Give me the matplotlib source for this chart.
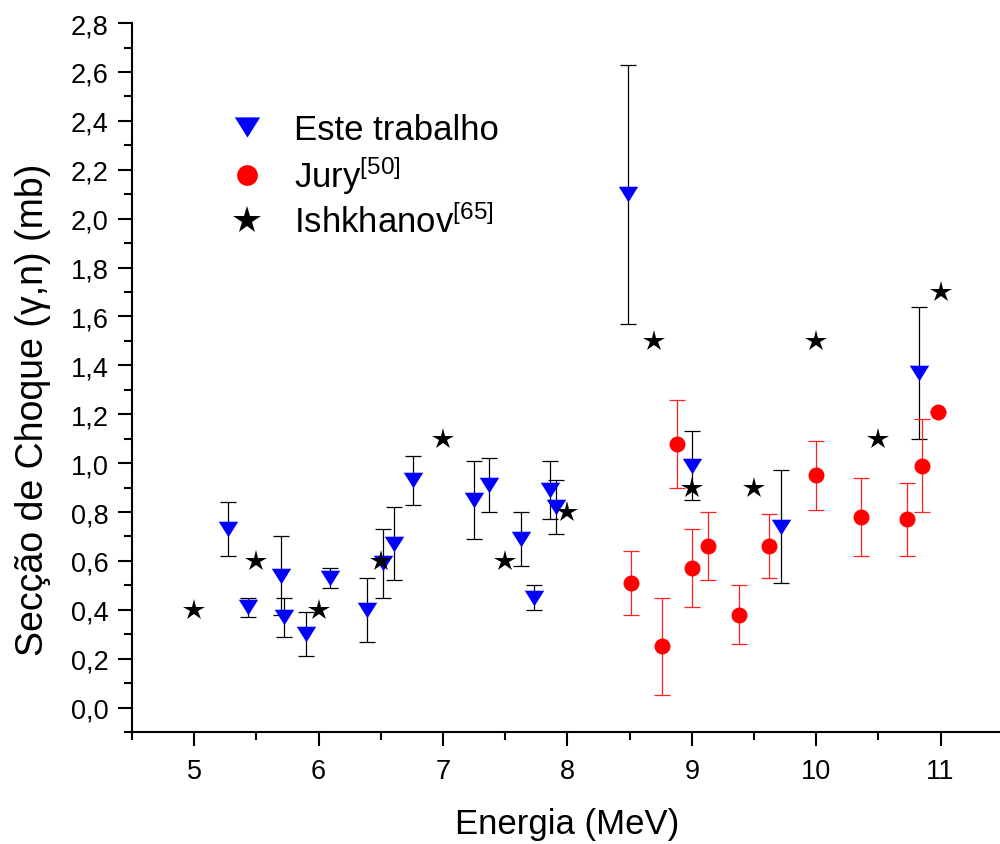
import matplotlib
matplotlib.use("Agg")
import matplotlib.pyplot as plt
from matplotlib.ticker import MultipleLocator
from matplotlib.path import Path

plt.rcParams['font.family'] = ['Liberation Sans', 'DejaVu Sans']
plt.rcParams['mathtext.fontset'] = 'custom'
plt.rcParams['mathtext.rm'] = 'Liberation Sans'
plt.rcParams['mathtext.it'] = 'Liberation Sans:italic'
plt.rcParams['mathtext.bf'] = 'Liberation Sans:bold'

# ---- Data ----
# Este trabalho (blue triangles)
este_x = [5.27, 5.43, 5.70, 5.72, 5.90, 6.09, 6.39, 6.52, 6.61, 6.76, 7.25, 7.37,
          7.63, 7.73, 7.86, 7.91, 8.49, 9.00, 9.72, 10.83]
este_y = [0.73, 0.41, 0.54, 0.37, 0.30, 0.53, 0.40, 0.59, 0.67, 0.93, 0.85, 0.91,
          0.69, 0.45, 0.89, 0.82, 2.10, 0.99, 0.74, 1.37]
este_err = [0.11, 0.04, 0.16, 0.08, 0.09, 0.04, 0.13, 0.14, 0.15, 0.10, 0.16, 0.11,
            0.11, 0.05, 0.12, 0.11, 0.53, 0.14, 0.23, 0.27]

# Jury [50] (red circles)
jury_x = [8.51, 8.76, 8.88, 9.00, 9.13, 9.38, 9.62, 10.00, 10.36, 10.73, 10.85, 10.98]
jury_y = [0.51, 0.25, 1.08, 0.57, 0.66, 0.38, 0.66, 0.95, 0.78, 0.77, 0.99, 1.21]
jury_err = [0.13, 0.20, 0.18, 0.16, 0.14, 0.12, 0.13, 0.14, 0.16, 0.15, 0.19, 0.0]

# Ishkhanov [65] (black stars)
ish_x = [5.0, 5.5, 6.0, 6.5, 7.0, 7.5, 8.0, 8.7, 9.0, 9.5, 10.0, 10.5, 11.0]
ish_y = [0.4, 0.6, 0.4, 0.6, 1.1, 0.6, 0.8, 1.5, 0.9, 0.9, 1.5, 1.1, 1.7]

xticks = [5, 6, 7, 8, 9, 10, 11]
xtick_labels = ['5', '6', '7', '8', '9', '10', '11']
yticks = [0.0, 0.2, 0.4, 0.6, 0.8, 1.0, 1.2, 1.4, 1.6, 1.8, 2.0, 2.2, 2.4, 2.6, 2.8]
ytick_labels = ['0,0', '0,2', '0,4', '0,6', '0,8', '1,0', '1,2', '1,4', '1,6', '1,8',
                '2,0', '2,2', '2,4', '2,6', '2,8']

# ---- Figure ----
fig = plt.figure(figsize=(10, 8.45), dpi=100)
ax = fig.add_axes([0.132, 0.1325, 0.8708, 0.839])

tri = Path([(-1, 0.8), (1, 0.8), (0, -0.8), (-1, 0.8)],
           [Path.MOVETO, Path.LINETO, Path.LINETO, Path.CLOSEPOLY])

ax.errorbar(este_x, este_y, yerr=este_err, fmt='none', ecolor='black',
            elinewidth=0.9, capsize=5.5, capthick=0.9, zorder=2)
ax.plot(este_x, este_y, linestyle='none', marker=tri, markersize=14,
        color='#0000ff', markeredgewidth=0, zorder=3, label='Este trabalho')

ax.errorbar(jury_x, jury_y, yerr=jury_err, fmt='none', ecolor='#ff2020',
            elinewidth=0.9, capsize=5.5, capthick=0.9, zorder=2)
ax.plot(jury_x, jury_y, linestyle='none', marker='o', markersize=11.5,
        color='#ff0000', markeredgewidth=0, zorder=3, label='Jury$^{[50]}$')

ax.plot(ish_x, ish_y, linestyle='none', marker='*', markersize=16,
        color='black', markeredgewidth=0, zorder=4, label='Ishkhanov$^{[65]}$')

ax.set_xlim(4.5, 11.5)
ax.set_ylim(-0.1, 2.8)

ax.set_xticks(xticks)
ax.set_xticklabels(xtick_labels)
ax.set_yticks(yticks)
ax.set_yticklabels(ytick_labels)
ax.xaxis.set_minor_locator(MultipleLocator(0.5))
ax.yaxis.set_minor_locator(MultipleLocator(0.1))

ax.tick_params(which='major', direction='out', length=10, width=1.5,
               labelsize=19.5, pad=7)
ax.tick_params(which='minor', direction='out', length=5.5, width=1.5)
ax.tick_params(axis='x', which='major', pad=9)

for s in ['top', 'right']:
    ax.spines[s].set_visible(False)
for s in ['left', 'bottom']:
    ax.spines[s].set_linewidth(1.5)

ax.set_xlabel('Energia (MeV)', fontsize=25, labelpad=16)
ax.set_ylabel('Secção de Choque (γ,n) (mb)', fontsize=27)
ax.yaxis.set_label_coords(-0.093, 0.456)

leg = ax.legend(loc='upper left', bbox_to_anchor=(0.09, 0.893), frameon=False,
                fontsize=25, handletextpad=0.7, labelspacing=0.22,
                handlelength=1.3, borderaxespad=0, markerscale=1.3)

fig.savefig('out.png', dpi=100)
